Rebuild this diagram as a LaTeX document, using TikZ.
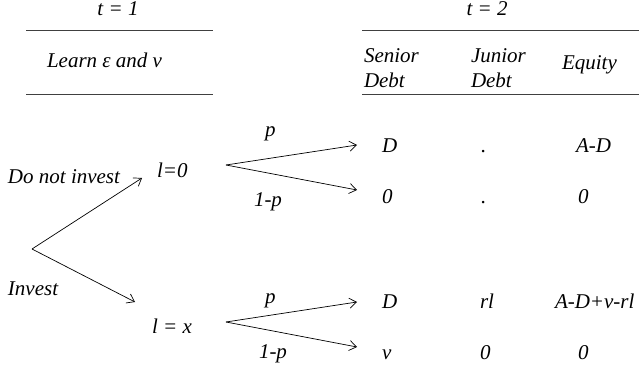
\documentclass[tikz,border=0pt]{standalone}
\usepackage{fontspec}
\setmainfont{Liberation Serif}[ItalicFont={Liberation Serif Italic}]
\usetikzlibrary{arrows.meta}
\tikzset{
  txt/.style={inner sep=0pt, outer sep=0pt, anchor=base west, font=\fontsize{21}{25}\selectfont\itshape},
  ctxt/.style={txt, anchor=base},
  rule/.style={draw=black!75, line width=0.9pt},
  arr/.style={draw=black, line width=0.7pt, -{Straight Barb[length=7pt,width=10pt,line width=0.7pt]}},
}
\begin{document}
\begin{tikzpicture}[x=1pt,y=-1pt]
\useasboundingbox (0,0) rectangle (639,371);
% header left
\node[ctxt] (t1) at (118,16) {t = 1};
\coordinate (l1a) at (26,30); \coordinate (l1b) at (213,30);
\draw[rule] (l1a) -- (l1b);
\node[txt] (learn) at (47,68) {Learn ε and ν};
\coordinate (l2a) at (26,94); \coordinate (l2b) at (213,94);
\draw[rule] (l2a) -- (l2b);
% header right
\node[ctxt] (t2) at (487,16) {t = 2};
\coordinate (r1a) at (362,30); \coordinate (r1b) at (639,30);
\draw[rule] (r1a) -- (r1b);
\node[txt] (sen1) at (364,63) {Senior};
\node[txt] (sen2) at (364,88) {Debt};
\node[txt] (jun1) at (471,63) {Junior};
\node[txt] (jun2) at (471,88) {Debt};
\node[txt] (eq) at (562,70) {Equity};
\coordinate (r2a) at (362,94); \coordinate (r2b) at (639,94);
\draw[rule] (r2a) -- (r2b);
% tree
\coordinate (root) at (32,249);
\coordinate (tipA) at (142,178);
\coordinate (tipB) at (135,302);
\draw[arr] (root) -- (tipA);
\draw[arr] (root) -- (tipB);
\node[txt] (dni) at (8,184) {Do not invest};
\node[txt] (inv) at (8,295) {Invest};
\node[txt] (l0) at (157,178) {l=0};
\node[txt] (lx) at (152,333) {l = x};
% upper fork
\coordinate (fu) at (226,165);
\coordinate (fu1) at (357,145);
\coordinate (fu2) at (357,190);
\draw[arr] (fu) -- (fu1);
\draw[arr] (fu) -- (fu2);
\node[txt] (pu) at (265,137) {p};
\node[txt] (qu) at (254,207) {1-p};
% lower fork
\coordinate (fl) at (226,322);
\coordinate (fl1) at (357,302);
\coordinate (fl2) at (357,347);
\draw[arr] (fl) -- (fl1);
\draw[arr] (fl) -- (fl2);
\node[txt] (pl) at (265,303) {p};
\node[txt] (ql) at (259,358) {1-p};
% payoffs
\node[txt] (s1) at (382,153) {D};
\node[txt] (s2) at (382,204) {0};
\node[txt] (s3) at (382,308) {D};
\node[txt] (s4) at (382,359) {v};
\node[txt] (j1) at (481,153) {.};
\node[txt] (j2) at (481,204) {.};
\node[txt] (j3) at (480,308) {rl};
\node[txt] (j4) at (480,359) {0};
\node[txt] (e1) at (576,153) {A-D};
\node[txt] (e2) at (578,204) {0};
\node[txt] (e3) at (555,308) {A-D+v-rl};
\node[txt] (e4) at (578,359) {0};
\end{tikzpicture}
\end{document}
